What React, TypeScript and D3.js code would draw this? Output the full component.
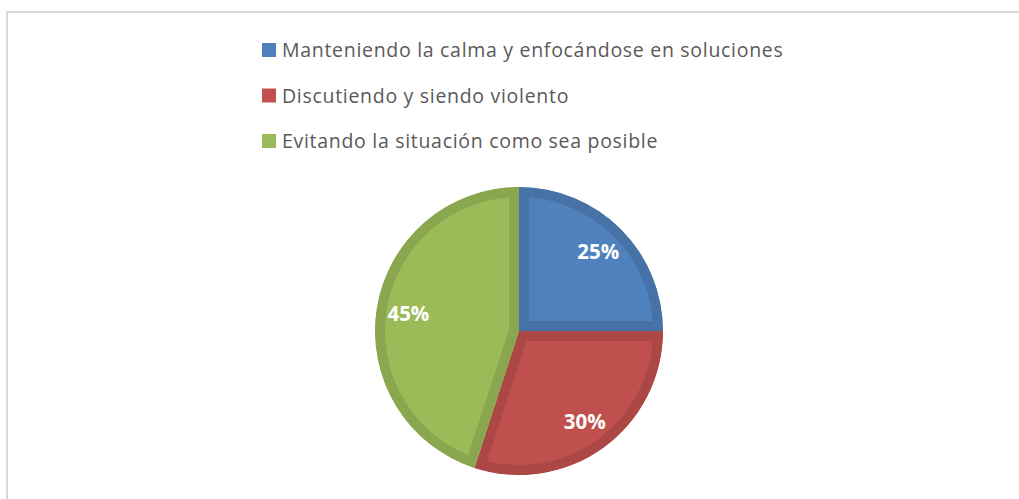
import React, { useRef, useEffect } from "react";
import * as d3 from "d3";

const categories = [
  "Manteniendo la calma y enfocándose en soluciones",
  "Discutiendo y siendo violento",
  "Evitando la situación como sea posible",
];
const values = [25, 30, 45];
const labels = ["25%", "30%", "45%"];
const fills = ["#4F81BD", "#C0504D", "#9BBB59"];
const edges = ["#4672A8", "#AB4744", "#8AA64F"];

const W = 1019;
const H = 499;

const App = () => {
  const ref = useRef<SVGSVGElement>(null);

  useEffect(() => {
    const svg = d3.select(ref.current);
    svg.selectAll("*").remove();

    // chart area border (runs off the right and bottom)
    svg
      .append("rect")
      .attr("x", 7)
      .attr("y", 12)
      .attr("width", W + 20)
      .attr("height", H + 20)
      .attr("fill", "#fff")
      .attr("stroke", "#d9d9d9")
      .attr("stroke-width", 2);

    // legend
    const legend = svg.append("g").attr("transform", "translate(262,50)");
    categories.forEach((c, i) => {
      const row = legend.append("g").attr("transform", `translate(0,${i * 45.5})`);
      row
        .append("rect")
        .attr("x", 0)
        .attr("y", -7)
        .attr("width", 14)
        .attr("height", 14)
        .attr("fill", fills[i]);
      row
        .append("text")
        .attr("x", 20)
        .attr("y", 0)
        .attr("dy", "0.36em")
        .attr("font-family", "'Open Sans', sans-serif")
        .attr("font-size", 19.5)
        .attr("letter-spacing", 0.7)
        .attr("fill", "#595959")
        .text(c);
    });

    // pie
    const cx = 519;
    const cy = 331;
    const r = 144;
    const pie = d3.pie<number>().sort(null).value((d) => d);
    const arcs = pie(values);
    const arc = d3.arc<d3.PieArcDatum<number>>().innerRadius(0).outerRadius(r);
    const labelArc = d3
      .arc<d3.PieArcDatum<number>>()
      .innerRadius(112)
      .outerRadius(112);

    const g = svg.append("g").attr("transform", `translate(${cx},${cy})`);
    const defs = svg.append("defs");

    arcs.forEach((a, i) => {
      const d = arc(a) as string;
      defs
        .append("clipPath")
        .attr("id", `slice-${i}`)
        .append("path")
        .attr("d", d);
      g.append("path")
        .attr("d", d)
        .attr("fill", fills[i])
        .attr("stroke", edges[i])
        .attr("stroke-width", 20)
        .attr("stroke-linejoin", "miter")
        .attr("clip-path", `url(#slice-${i})`);
    });

    arcs.forEach((a, i) => {
      const [x, y] = labelArc.centroid(a);
      g.append("text")
        .attr("x", x)
        .attr("y", y)
        .attr("dy", "0.36em")
        .attr("text-anchor", "middle")
        .attr("font-family", "'Open Sans', sans-serif")
        .attr("font-weight", "bold")
        .attr("font-size", 20.5)
        .attr("fill", "#fff")
        .text(labels[i]);
    });
  }, []);

  return (
    <svg
      ref={ref}
      width={W}
      height={H}
      style={{ position: "absolute", left: 0, top: 0, background: "#fff" }}
    ></svg>
  );
};

export default App;
